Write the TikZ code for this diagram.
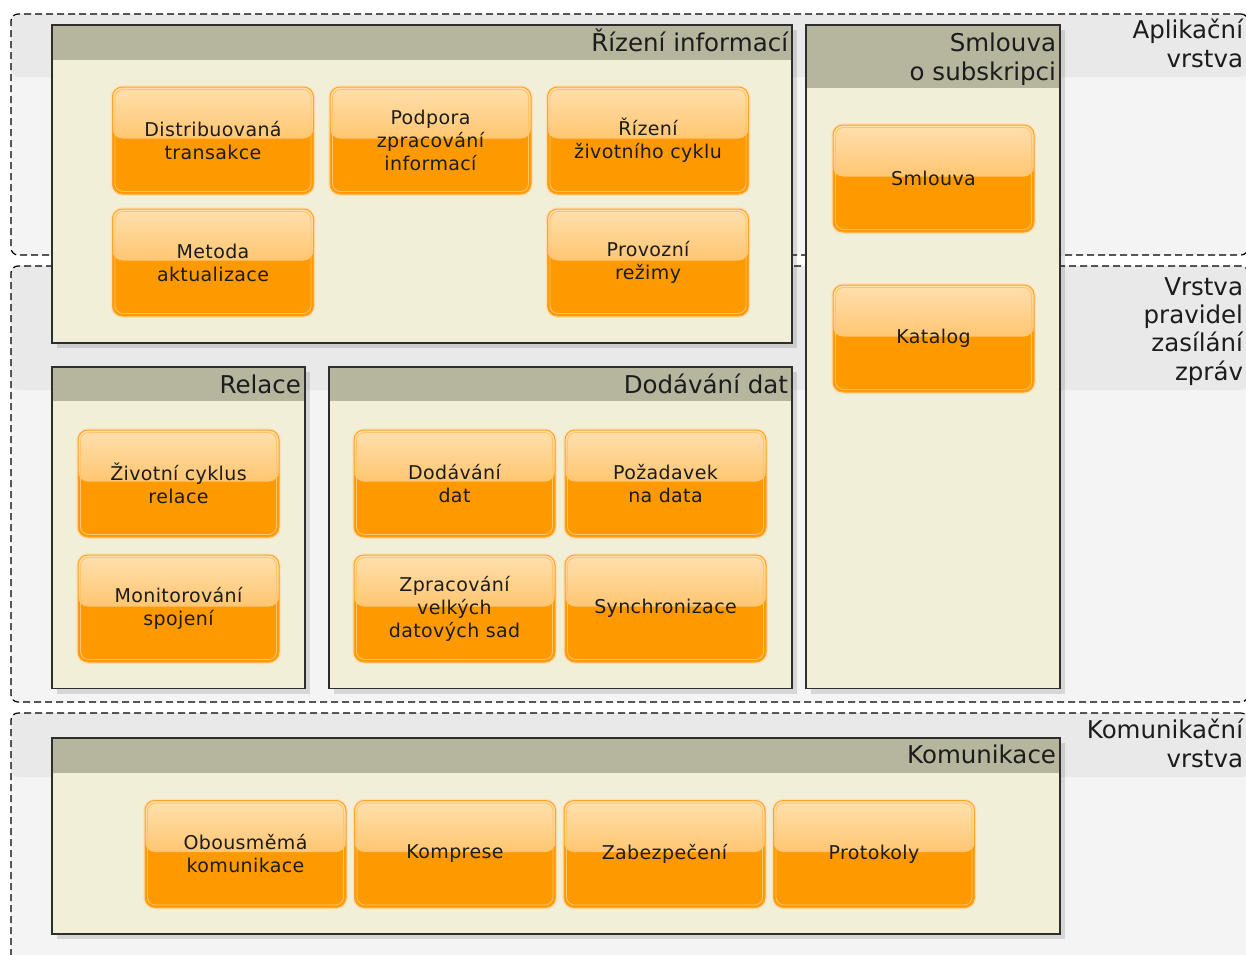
\documentclass[tikz,border=0pt]{standalone}
\usepackage{fontspec}
\setmainfont{DejaVu Sans}
\newfontfamily\obf{DejaVu Sans}[LetterSpace=2]
\usetikzlibrary{calc,shadows}
\definecolor{bandgray}{HTML}{E9E9E9}
\definecolor{bodygray}{HTML}{F4F4F4}
\definecolor{gband}{HTML}{B6B69E}
\definecolor{gbody}{HTML}{F2EFD9}
\definecolor{gline}{HTML}{2E2E2E}
\definecolor{otop}{HTML}{FFE0AE}
\definecolor{omid}{HTML}{FFAA30}
\definecolor{obot}{HTML}{FF9900}
\definecolor{oline}{HTML}{FFA42A}
\definecolor{oinner}{HTML}{FFC46C}
\definecolor{txt}{HTML}{1C1C1C}
\tikzset{
  lpanel/.style={rectangle, rounded corners=7pt, draw=black, line width=1.2pt,
    dash pattern=on 7pt off 4pt, fill=bodygray, inner sep=0pt, outer sep=0pt,
    path picture={\fill[bandgray] (path picture bounding box.north west) rectangle ([yshift=-#1]path picture bounding box.north east);}},
  gbox/.style={rectangle, draw=gline, line width=1.3pt, fill=gbody, inner sep=0pt, outer sep=0pt,
    drop shadow={shadow xshift=5pt, shadow yshift=-5pt, fill=black, opacity=0.12},
    path picture={\fill[gband] (path picture bounding box.north west) rectangle ([yshift=-#1]path picture bounding box.north east);}},
  obox/.style={rectangle, rounded corners=10pt, minimum width=201pt, minimum height=107pt,
    inner sep=0pt, outer sep=0pt, fill=obot, draw=oline, line width=1pt, align=center,
    text=txt, font=\obf\fontsize{19}{23}\selectfont,
    preaction={draw=oline!35, line width=3.5pt},
    path picture={
      \fill[top color=otop, bottom color=omid] (path picture bounding box.north west) rectangle ([yshift=2pt]path picture bounding box.east);
      \draw[oinner, line width=0.9pt, rounded corners=8pt] ([shift={(2.5pt,2.5pt)}]path picture bounding box.south west) rectangle ([shift={(-2.5pt,-2.5pt)}]path picture bounding box.north east);
    }},
  hlabel/.style={anchor=base east, inner sep=0pt, outer sep=0pt, text=txt, font=\fontsize{24.5}{28.5}\selectfont},
}
\begin{document}
\begin{tikzpicture}[x=1pt,y=-1pt]
\useasboundingbox (0,0) rectangle (1246,954);
\fill[white] (0,0) rectangle (1246,954);
\clip (0,0) rectangle (1246,954);

% layers
\node[lpanel=63pt, minimum width=1237pt, minimum height=241pt] (L1) at (629.5,134.5) {};
\node[lpanel=124pt, minimum width=1237pt, minimum height=436pt] (L2) at (629.5,484) {};
\node[lpanel=64pt, minimum width=1237pt, minimum height=267pt] (L3) at (629.5,846.5) {};

\node[hlabel] (l1a) at (1243,38.5) {Aplikační};
\node[hlabel] (l1b) at (1243,67) {vrstva};
\node[hlabel] (l2a) at (1243,295) {Vrstva};
\node[hlabel] (l2b) at (1243,323.3) {pravidel};
\node[hlabel] (l2c) at (1243,351.7) {zasílání};
\node[hlabel] (l2d) at (1243,380) {zpráv};
\node[hlabel] (l3a) at (1243,738.5) {Komunikační};
\node[hlabel] (l3b) at (1243,767) {vrstva};

% groups
\node[gbox=35pt, minimum width=740pt, minimum height=318pt] (G1) at (422,184) {};
\node[gbox=63pt, minimum width=254pt, minimum height=663.5pt] (G2) at (933,356.75) {};
\node[gbox=34pt, minimum width=253pt, minimum height=321.5pt] (G3) at (178.5,527.75) {};
\node[gbox=34pt, minimum width=463pt, minimum height=321.5pt] (G4) at (560.5,527.75) {};
\node[gbox=35pt, minimum width=1008pt, minimum height=196pt] (G5) at (556,836) {};

\node[hlabel] (g1t) at (788,51.7) {Řízení informací};
\node[hlabel] (g2t) at (1056,51.7) {Smlouva};
\node[hlabel] (g2u) at (1056,80.4) {o subskripci};
\node[hlabel] (g3t) at (301,393.5) {Relace};
\node[hlabel] (g4t) at (788,393.5) {Dodávání dat};
\node[hlabel] (g5t) at (1056,763.5) {Komunikace};

% orange boxes
\node[obox] (dt) at (213,140.5) {Distribuovaná\\transakce};
\node[obox] (pz) at (430.5,140.5) {Podpora\\zpracování\\informací};
\node[obox] (rz) at (648,140.5) {Řízení\\životního cyklu};
\node[obox] (ma) at (213,262.5) {Metoda\\aktualizace};
\node[obox] (pr) at (648,262.5) {Provozní\\režimy};
\node[obox] (sm) at (933.5,178.5) {Smlouva};
\node[obox] (ka) at (933.5,338.5) {Katalog};
\node[obox] (zc) at (178.5,483.5) {Životní cyklus\\relace};
\node[obox] (ms) at (178.5,608.5) {Monitorování\\spojení};
\node[obox] (dd) at (454.5,483.5) {Dodávání\\dat};
\node[obox] (pd) at (665.5,483.5) {Požadavek\\na data};
\node[obox] (zv) at (454.5,608.5) {Zpracování\\velkých\\datových sad};
\node[obox] (sy) at (665.5,608.5) {Synchronizace};
\node[obox] (ok) at (245.5,854) {Obousměmá\\komunikace};
\node[obox] (ko) at (455,854) {Komprese};
\node[obox] (za) at (664.5,854) {Zabezpečení};
\node[obox] (pt) at (874,854) {Protokoly};
\end{tikzpicture}
\end{document}
